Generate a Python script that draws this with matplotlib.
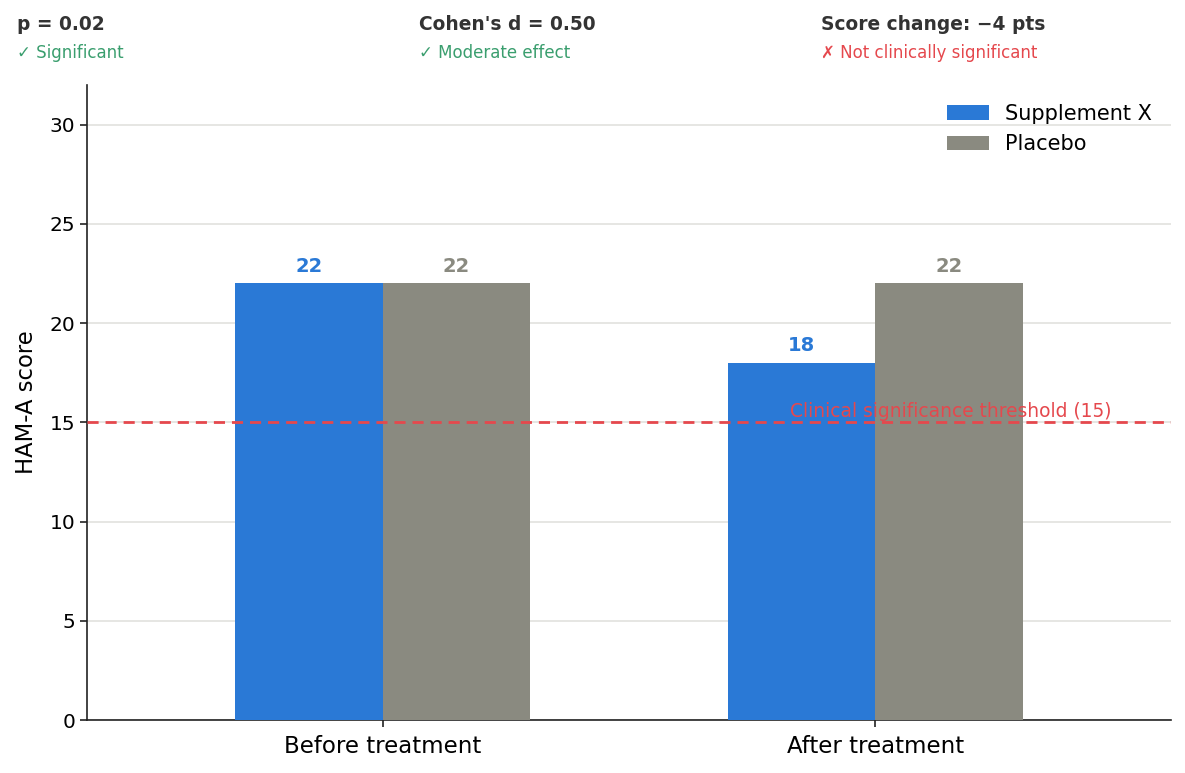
import matplotlib
matplotlib.use("Agg")
import matplotlib.pyplot as plt
import numpy as np

categories = ["Before treatment", "After treatment"]
supplement = [22, 18]
placebo = [22, 22]
series_names = ["Supplement X", "Placebo"]
threshold = 15
threshold_label = "Clinical significance threshold (15)"
header_titles = ["p = 0.02", "Cohen's d = 0.50", "Score change: \u22124 pts"]
header_subs = ["\u2713 Significant", "\u2713 Moderate effect", "\u2717 Not clinically significant"]
header_colors = ["#3a9e6e", "#3a9e6e", "#e5484d"]

BLUE = "#2a79d6"
GRAY = "#8a8a80"
RED = "#e5484d"

fig = plt.figure(figsize=(11.85, 7.73), dpi=100)
ax = fig.add_axes([87/1185, 1-720/773, (1171-87)/1185, (720-85)/773])

x = np.arange(len(categories))
w = 0.3
b1 = ax.bar(x - w/2, supplement, w, color=BLUE, label=series_names[0], zorder=3)
b2 = ax.bar(x + w/2, placebo, w, color=GRAY, label=series_names[1], zorder=3)

for rect, v in zip(b1, supplement):
    ax.text(rect.get_x() + rect.get_width()/2, v + 0.4, f"{v}", ha="center", va="bottom",
            color=BLUE, fontsize=14, fontweight="bold", zorder=5)
for rect, v in zip(b2, placebo):
    ax.text(rect.get_x() + rect.get_width()/2, v + 0.4, f"{v}", ha="center", va="bottom",
            color=GRAY, fontsize=14, fontweight="bold", zorder=5)

ax.axhline(threshold, color=RED, linestyle="--", linewidth=2, zorder=4, dashes=(4, 2.5))
ax.text(1.48, threshold + 0.05, threshold_label, ha="right", va="bottom", color=RED,
        fontsize=13.4, zorder=5)

ax.set_xlim(-0.6, 1.6)
ax.set_ylim(0, 32)
ax.set_yticks([0, 5, 10, 15, 20, 25, 30])
ax.set_xticks(x)
ax.set_xticklabels(categories, fontsize=16.5)
ax.tick_params(axis="y", labelsize=14.5, length=5, width=1.2, color="#222222")
ax.tick_params(axis="x", length=5, width=1.2, color="#222222", pad=6)
ax.set_ylabel("HAM-A score", fontsize=16.3, labelpad=8)
ax.yaxis.grid(True, color="#e2e2de", linewidth=1.2, zorder=0)
ax.set_axisbelow(True)
for s in ["top", "right"]:
    ax.spines[s].set_visible(False)
for s in ["left", "bottom"]:
    ax.spines[s].set_color("#222222")
    ax.spines[s].set_linewidth(1.2)

leg = ax.legend(loc="upper right", frameon=False, fontsize=15, handlelength=2.0,
                handleheight=0.7, borderaxespad=0.5, labelspacing=0.5)

xs = [17/1185, 419/1185, 821/1185]
for xi, t, s, c in zip(xs, header_titles, header_subs, header_colors):
    fig.text(xi, 1-24/773, t, ha="left", va="center", fontsize=13.4, fontweight="bold", color="#333333")
    fig.text(xi, 1-53/773, s, ha="left", va="center", fontsize=12, color=c)

fig.savefig("out.png", dpi=100)
